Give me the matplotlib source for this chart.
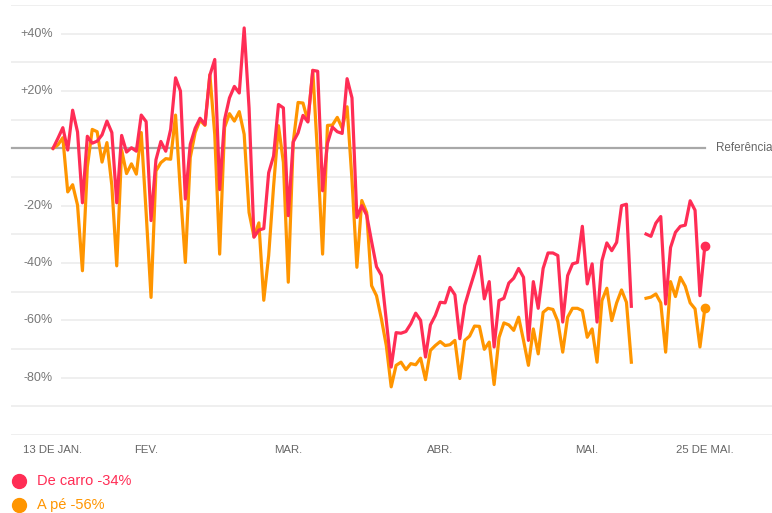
import numpy as np
import pandas as pd
import matplotlib
matplotlib.use('Agg')
import matplotlib.pyplot as plt
import matplotlib.transforms as mtransforms

plt.rcParams['font.family'] = ['Liberation Sans', 'DejaVu Sans']

# daily series, 13 jan -> 25 mai (2020), % vs reference
dates = pd.date_range('2020-01-13', '2020-05-25', freq='D')
nan = np.nan
carro = [0, 3.5, 7.2, -0.6, 13.3, 5.7, -19, 4.2, 1.8, 2.5,
         4.7, 9.5, 5.5, -19, 4.5, -1.3, 0.2, -1, 11.6, 9.3,
         -25.2, -4, 2.4, -1, 6.6, 24.6, 20, -17.7, 1.4, 7,
         10.5, 8.3, 25.5, 31, -14.4, 10, 17.6, 21.6, 19.3, 42,
         14, -31, -28.5, -28, -8.5, -2.7, 15.3, 14.1, -23.5, 2.2,
         5.4, 11.5, 9.2, 27.2, 26.9, -14.8, 1.8, 7.4, 5.8, 5.2,
         24.3, 17.6, -24.1, -20, -23.3, -32.5, -41.3, -44.3, -60, -76.3,
         -64.3, -64.5, -63.9, -61.2, -57.5, -60, -72.8, -61.6, -58.3, -53.7,
         -53.9, -48.5, -51.1, -66.4, -54.8, -49, -43.5, -37.7, -52.5, -46.5,
         -69.3, -53.1, -52.3, -47, -45.3, -41.9, -45, -67, -46.5, -55.8,
         -41.9, -36.5, -36.5, -37.4, -60.6, -44.4, -40.3, -39.8, -27.2, -47.3,
         -40.3, -60.6, -39.2, -33, -35.7, -32.8, -20, -19.5, -55.1, nan,
         nan, -29.9, -30.7, -26.1, -23.8, -54.3, -34.6, -29.3, -27.2, -26.8,
         -18.3, -21.6, -51.4, -34]
ape = [0, 1.2, 3.7, -15.2, -12.7, -19.8, -42.7, -6.5, 6.6, 5.8,
       -4.8, 2, -13, -41, -0.6, -8.8, -5.4, -9, 5.5, -22.5,
       -52, -7.9, -5, -3.6, -3.8, 11.6, -15.4, -39.8, -3.2, 5.5,
       9.8, 8, 25.7, 4.8, -36.9, 7.3, 12.1, 9.5, 12.8, 4.9,
       -22.4, -30.8, -26, -53, -37.4, -13.3, 7.9, -4.9, -46.7, 2,
       16, 15.8, 9.5, 27.2, -3, -36.9, 8, 8.1, 10.8, 7,
       14.5, -11, -41.5, -18.2, -22.4, -47.9, -51.4, -59.5, -68.8, -83.2,
       -75.7, -74.6, -77.2, -75.1, -75.5, -73.2, -80.7, -70.5, -68.8, -67.4,
       -68.8, -68.5, -67, -80.3, -67, -65.5, -62, -62.1, -70.1, -67.6,
       -82.4, -66, -60.9, -61.6, -63.5, -58.9, -67, -75.7, -63, -71.7,
       -57.2, -55.8, -56.2, -60.4, -71.1, -58.9, -55.8, -55.8, -56.6, -65.9,
       -63, -74.6, -53.1, -48.8, -60.1, -53.9, -49.4, -53.7, -74.6, nan,
       nan, -52.3, -51.9, -50.8, -53.9, -71.1, -46.5, -51.7, -45, -48.1,
       -53.9, -56, -69.3, -55.8]

tick_dates = ['2020-01-13', '2020-02-01', '2020-03-01', '2020-04-01', '2020-05-01', '2020-05-25']
tick_labels = ['13 DE JAN.', 'FEV.', 'MAR.', 'ABR.', 'MAI.', '25 DE MAI.']
ylabels = [40, 20, -20, -40, -60, -80]
legend_labels = ['De carro -34%', 'A pé -56%']

red = '#ff2d55'
orange = '#ff9500'

fig = plt.figure(figsize=(7.72, 5.13), dpi=100)
ax = fig.add_axes([10/772, 78/513, 762/772, 430/513])
ax.set_ylim(-100, 50)
ax.set_xlim(dates[0] - pd.Timedelta(days=8.78), dates[0] + pd.Timedelta(days=146.7))
for s in ax.spines.values():
    s.set_visible(False)
ax.set_yticks([])

# grid lines
for v in range(-100, 51, 10):
    if v == 0:
        continue
    start = 0.068 if v in ylabels else 0.003
    ax.axhline(v, xmin=start, xmax=1, color='#efefef', lw=1.4, zorder=0)
ax.axhline(0, xmin=0.003, xmax=0.912, color='#a8a8a8', lw=1.6, zorder=1)

trans = mtransforms.blended_transform_factory(ax.transAxes, ax.transData)
for v in ylabels:
    lab = ('+%d%%' % v) if v > 0 else ('%d%%' % v)
    ax.text(0.056, v, lab, transform=trans, ha='right', va='center',
            color='#777777', fontsize=9)
ax.text(0.926, 0, 'Referência', transform=trans, ha='left', va='center',
        color='#666666', fontsize=8.4, clip_on=False)

ax.plot(dates, carro, color=red, lw=2.3, zorder=3)
ax.plot(dates, ape, color=orange, lw=2.3, zorder=2)
ax.plot(dates[-1], carro[-1], 'o', color=red, ms=6, zorder=4)
ax.plot(dates[-1], ape[-1], 'o', color=orange, ms=6, zorder=4)

ax.set_xticks(pd.to_datetime(tick_dates))
ax.set_xticklabels(tick_labels, fontsize=8.2, color='#666666')
ax.tick_params(axis='x', length=0, pad=7)

# legend below
lax = fig.add_axes([0, 0, 1, 1])
lax.set_xlim(0, 772)
lax.set_ylim(513, 0)
lax.axis('off')
lax.patch.set_alpha(0)
for i, (lab, c) in enumerate(zip(legend_labels, [red, orange])):
    y = 481 + 24*i
    lax.plot(19, y, 'o', color=c, ms=10)
    lax.text(37, y, lab, color=c, fontsize=10.5, va='center', ha='left')

fig.savefig('out.png', dpi=100)
